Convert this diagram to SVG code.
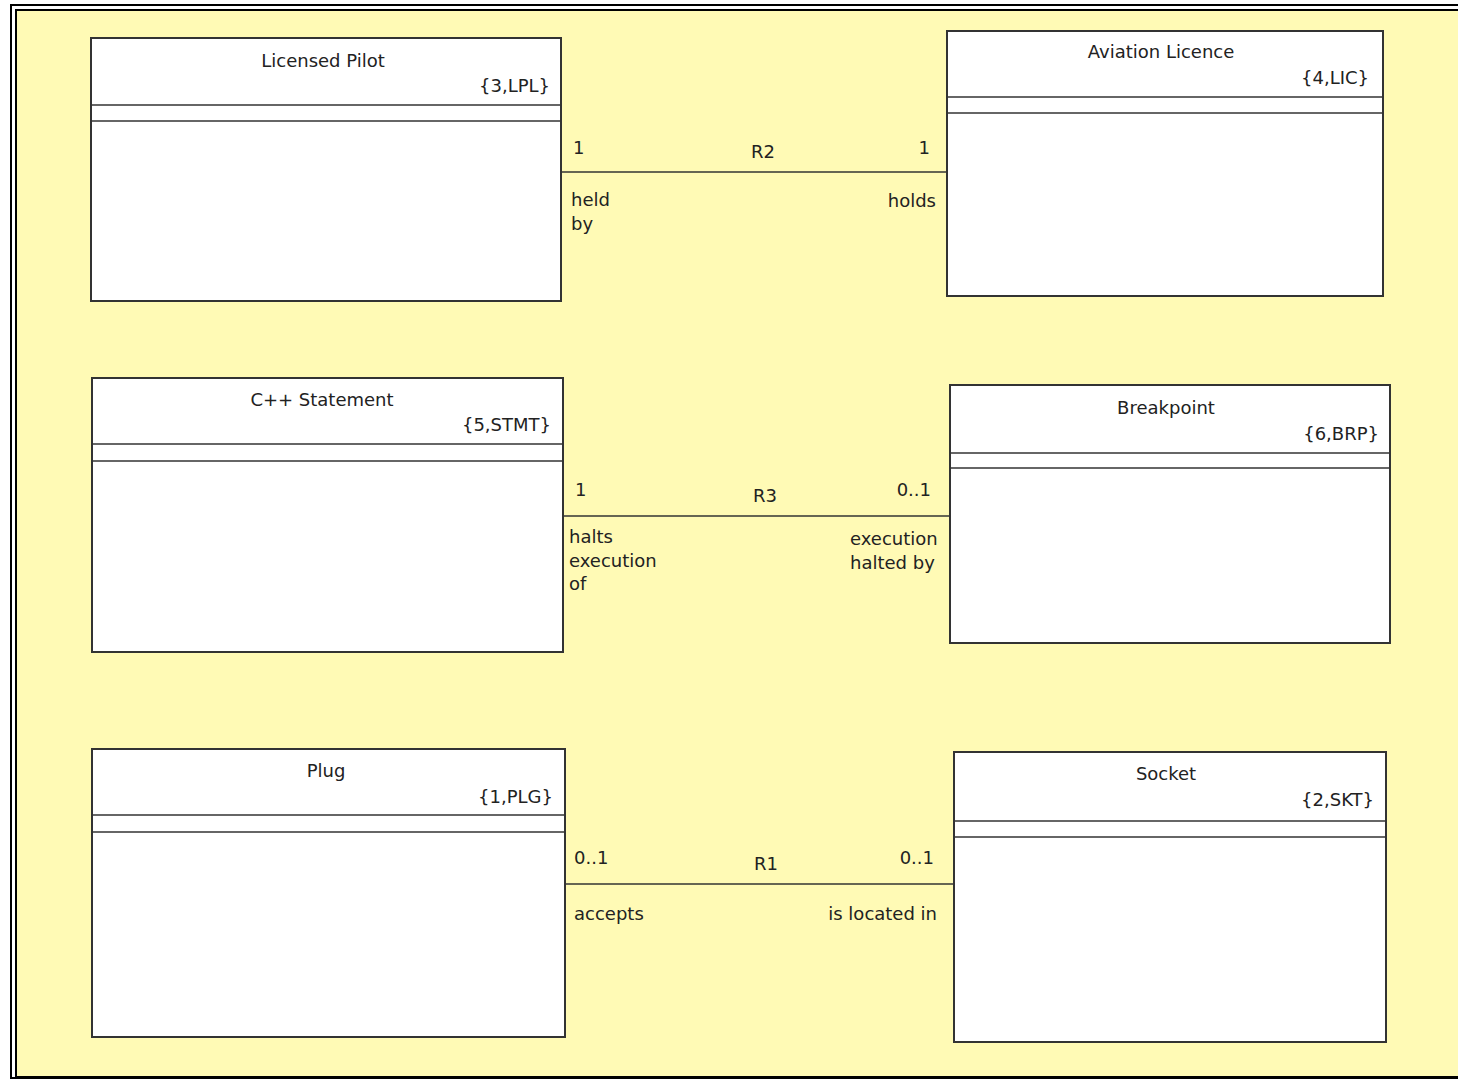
<svg xmlns="http://www.w3.org/2000/svg" width="1458" height="1079" viewBox="0 0 1458 1079">
<style>
.box{fill:#fff;stroke:#333;stroke-width:2}
.sep{stroke:#333;stroke-width:1.6}
.conn{stroke:#333;stroke-width:1.6;fill:none}
text{font-family:"DejaVu Sans",Tahoma,sans-serif;font-size:18px;fill:#222}
.c{text-anchor:middle}
.r{text-anchor:end}
</style>
<rect x="0" y="0" width="1458" height="1079" fill="#fff"/>
<rect x="11" y="5" width="1460" height="1073" fill="none" stroke="#000" stroke-width="2"/>
<rect x="16" y="10" width="1460" height="1067" fill="#fffab5" stroke="#000" stroke-width="2"/>
<g id="connectors">
<line class="conn" x1="561" y1="172" x2="947" y2="172"/>
<line class="conn" x1="563" y1="516" x2="950" y2="516"/>
<line class="conn" x1="565" y1="884" x2="954" y2="884"/>
<text x="573" y="154">1</text>
<text class="c" x="763" y="158">R2</text>
<text class="r" x="930" y="154">1</text>
<text x="571" y="206">held</text>
<text x="571" y="230">by</text>
<text class="r" x="936" y="207">holds</text>
<text x="575" y="496">1</text>
<text class="c" x="765" y="502">R3</text>
<text class="r" x="931" y="496">0..1</text>
<text x="569" y="543">halts</text>
<text x="569" y="567">execution</text>
<text x="569" y="590">of</text>
<text x="850" y="545">execution</text>
<text x="850" y="569">halted by</text>
<text x="574" y="864">0..1</text>
<text class="c" x="766" y="870">R1</text>
<text class="r" x="934" y="864">0..1</text>
<text x="574" y="920">accepts</text>
<text class="r" x="937" y="920">is located in</text>
</g>
<g id="licensed-pilot">
<rect class="box" x="91" y="38" width="470" height="263"/>
<line class="sep" x1="91" y1="105" x2="561" y2="105"/>
<line class="sep" x1="91" y1="121" x2="561" y2="121"/>
<text class="c" x="323" y="67">Licensed Pilot</text>
<text class="r" x="550" y="92">{3,LPL}</text>
</g>
<g id="aviation-licence">
<rect class="box" x="947" y="31" width="436" height="265"/>
<line class="sep" x1="947" y1="97" x2="1383" y2="97"/>
<line class="sep" x1="947" y1="113" x2="1383" y2="113"/>
<text class="c" x="1161" y="58">Aviation Licence</text>
<text class="r" x="1369" y="84">{4,LIC}</text>
</g>
<g id="cpp-statement">
<rect class="box" x="92" y="378" width="471" height="274"/>
<line class="sep" x1="92" y1="444" x2="563" y2="444"/>
<line class="sep" x1="92" y1="461" x2="563" y2="461"/>
<text class="c" x="322" y="406">C++ Statement</text>
<text class="r" x="551" y="431">{5,STMT}</text>
</g>
<g id="breakpoint">
<rect class="box" x="950" y="385" width="440" height="258"/>
<line class="sep" x1="950" y1="453" x2="1390" y2="453"/>
<line class="sep" x1="950" y1="468" x2="1390" y2="468"/>
<text class="c" x="1166" y="414">Breakpoint</text>
<text class="r" x="1379" y="440">{6,BRP}</text>
</g>
<g id="plug">
<rect class="box" x="92" y="749" width="473" height="288"/>
<line class="sep" x1="92" y1="815" x2="565" y2="815"/>
<line class="sep" x1="92" y1="832" x2="565" y2="832"/>
<text class="c" x="326" y="777">Plug</text>
<text class="r" x="553" y="803">{1,PLG}</text>
</g>
<g id="socket">
<rect class="box" x="954" y="752" width="432" height="290"/>
<line class="sep" x1="954" y1="821" x2="1386" y2="821"/>
<line class="sep" x1="954" y1="837" x2="1386" y2="837"/>
<text class="c" x="1166" y="780">Socket</text>
<text class="r" x="1374" y="806">{2,SKT}</text>
</g>
</svg>
